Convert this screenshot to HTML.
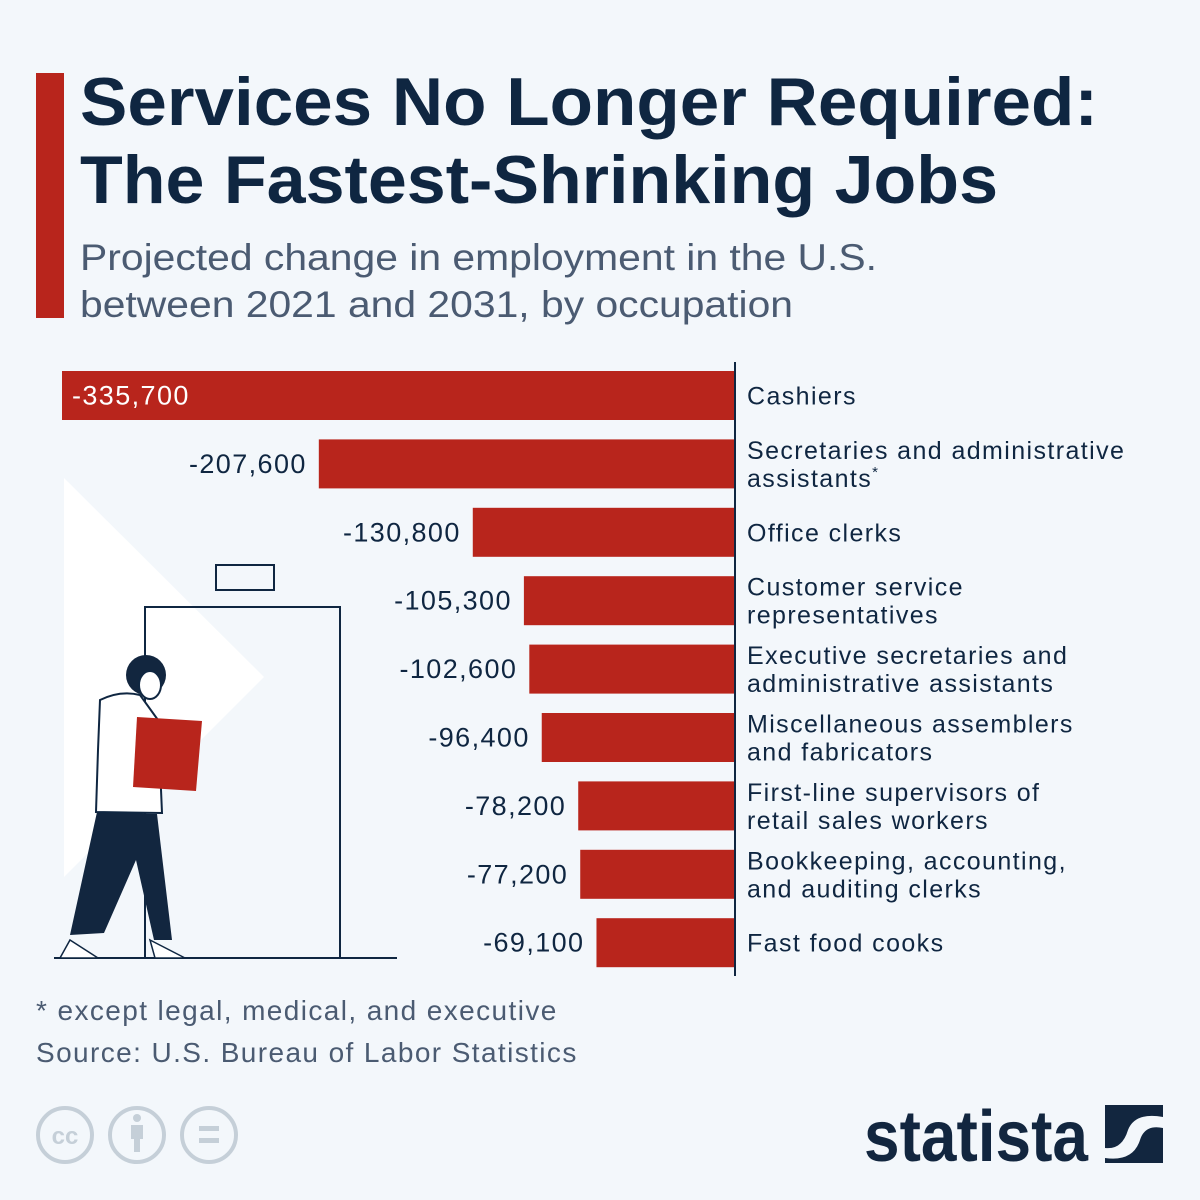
<!DOCTYPE html>
<html><head><meta charset="utf-8"><style>
html,body{margin:0;padding:0;background:#f3f7fb;}
svg{display:block;font-family:"Liberation Sans",sans-serif;}
</style></head><body>
<svg width="1200" height="1200" viewBox="0 0 1200 1200">
<rect width="1200" height="1200" fill="#f3f7fb"/>
<rect x="36" y="73" width="28" height="245" fill="#b8251c"/>
<text x="80" y="125" font-size="68" font-weight="bold" fill="#0f2641" textLength="1018" lengthAdjust="spacingAndGlyphs">Services No Longer Required:</text>
<text x="80" y="203" font-size="68" font-weight="bold" fill="#0f2641" textLength="918" lengthAdjust="spacingAndGlyphs">The Fastest-Shrinking Jobs</text>
<text x="80" y="270" font-size="37" fill="#4b5b72" textLength="797" lengthAdjust="spacingAndGlyphs">Projected change in employment in the U.S.</text>
<text x="80" y="317" font-size="37" fill="#4b5b72" textLength="713" lengthAdjust="spacingAndGlyphs">between 2021 and 2031, by occupation</text>

<g>
<polygon points="64,478 264,677 64,877" fill="#ffffff"/>
<rect x="216" y="565" width="58" height="25" fill="none" stroke="#0f2641" stroke-width="2"/>
<polyline points="145,958 145,607 340,607 340,958" fill="none" stroke="#0f2641" stroke-width="2"/>
<line x1="54" y1="958" x2="397" y2="958" stroke="#0f2641" stroke-width="2"/>
<path d="M97,812 L157,814 L172,940 L154,940 L136,860 L104,933 L70,935 Z" fill="#12263f"/>
<path d="M100,700 Q120,690 140,695 L158,720 L162,813 L96,812 L98,750 Z" fill="#ffffff" stroke="#0f2641" stroke-width="2"/>
<circle cx="146" cy="675" r="20" fill="#12263f"/>
<ellipse cx="150" cy="685" rx="11" ry="14" fill="#ffffff" stroke="#0f2641" stroke-width="2"/>
<polygon points="137,717 202,721 196,791 133,787" fill="#b8251c"/>
<path d="M70,940 L98,958 L60,958 Z M150,940 L185,958 L155,958 Z" fill="#ffffff" stroke="#0f2641" stroke-width="1.5"/>
</g>

<g id="chart"></g>

<text x="36" y="1020" font-size="28" letter-spacing="1.4" fill="#4b5b72">* except legal, medical, and executive</text>
<text x="36" y="1062" font-size="28" letter-spacing="1.4" fill="#4b5b72">Source: U.S. Bureau of Labor Statistics</text>

<g fill="none" stroke="#c5cfd8" stroke-width="4">
<circle cx="65" cy="1135" r="27"/>
<circle cx="137" cy="1135" r="27"/>
<circle cx="209" cy="1135" r="27"/>
<text x="65" y="1144" font-size="24" font-weight="bold" fill="#c5cfd8" stroke="none" text-anchor="middle">cc</text>
<circle cx="137" cy="1118" r="4" fill="#c5cfd8" stroke="none"/>
<rect x="131" y="1125" width="12" height="14" fill="#c5cfd8" stroke="none"/>
<rect x="134" y="1138" width="6" height="14" fill="#c5cfd8" stroke="none"/>
<rect x="199" y="1126" width="20" height="5" fill="#c5cfd8" stroke="none"/>
<rect x="199" y="1138" width="20" height="5" fill="#c5cfd8" stroke="none"/>
</g>
<g>
<text x="864" y="1161" font-size="72" font-weight="bold" fill="#12263f" textLength="224" lengthAdjust="spacingAndGlyphs">statista</text>
<rect x="1105" y="1105" width="58" height="58" fill="#12263f"/>
<path d="M1105,1148 Q1122,1150 1128,1130 Q1135,1112 1163,1117 L1163,1128 Q1145,1124 1140,1140 Q1133,1162 1105,1158 Z" fill="#f3f7fb"/>
</g>
</svg>
<script>
const categories = [["Cashiers"],["Secretaries and administrative","assistants*"],["Office clerks"],["Customer service","representatives"],["Executive secretaries and","administrative assistants"],["Miscellaneous assemblers","and fabricators"],["First-line supervisors of","retail sales workers"],["Bookkeeping, accounting,","and auditing clerks"],["Fast food cooks"]];
const values = [-335700,-207600,-130800,-105300,-102600,-96400,-78200,-77200,-69100];
const valueLabels = ["-335,700","-207,600","-130,800","-105,300","-102,600","-96,400","-78,200","-77,200","-69,100"];

const NS="http://www.w3.org/2000/svg";
const g=document.getElementById('chart');
const x0=735, xScale=673/335700, y0=371, step=68.4, bh=49;
const xPos=v=>x0+v*xScale;
const yPos=i=>y0+i*step;
function mk(t,a){const e=document.createElementNS(NS,t);for(const k in a)e.setAttribute(k,a[k]);g.appendChild(e);return e;}
values.forEach((v,i)=>{
  const x=xPos(v), y=yPos(i), cy=y+bh/2;
  const r=mk('rect',{x:x,y:y,width:x0-x,height:bh,fill:'#b8251c'});
  
  
  const inside = (x0-x)>600;
  const t=mk('text',{x:inside?x+10:x-12,y:cy+9,'font-size':27,'letter-spacing':1.4,fill:inside?'#ffffff':'#0f2641','text-anchor':inside?'start':'end'});
  t.textContent=valueLabels[i];
  
  
  const lines=categories[i];
  lines.forEach((ln,j)=>{
    const ly = lines.length===1 ? cy+9 : cy-5+j*28;
    const c=mk('text',{x:747,y:ly,'font-size':25,'letter-spacing':1.4,fill:'#0f2641'});
    if(ln.endsWith('*')){c.textContent=ln.slice(0,-1);const s=document.createElementNS(NS,'tspan');s.setAttribute('font-size','15');s.setAttribute('dy','-10');s.textContent='*';c.appendChild(s);}
    else c.textContent=ln;
    
    
  });
});
const ax=mk('line',{x1:x0,y1:362,x2:x0,y2:976,stroke:'#0f2641','stroke-width':2});


</script>
</body></html>
